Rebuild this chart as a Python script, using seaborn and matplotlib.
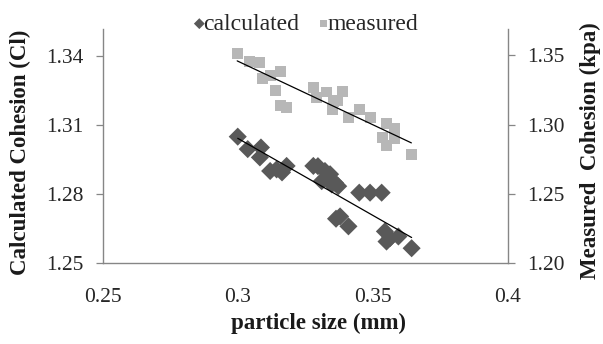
import numpy as np
import seaborn as sns
import matplotlib.pyplot as plt

# =====================================#
# DATA
# =====================================#
calc_size = [0.2999, 0.3036, 0.3085, 0.3081, 0.3119, 0.3143, 0.3180, 0.3163,
             0.3279, 0.3296, 0.3322, 0.3310, 0.3347, 0.3341, 0.3359, 0.3371,
             0.3449, 0.3489, 0.3532, 0.3378, 0.3409, 0.3363, 0.3544, 0.3563,
             0.3594, 0.3550, 0.3643]
calc_cohesion = [1.3048, 1.2994, 1.3001, 1.2958, 1.2899, 1.2906, 1.2921, 1.2893,
                 1.2921, 1.2920, 1.2899, 1.2855, 1.2841, 1.2885, 1.2848, 1.2833,
                 1.2805, 1.2805, 1.2805, 1.2702, 1.2659, 1.2692, 1.2637, 1.2608,
                 1.2615, 1.2593, 1.2564]

meas_size = [0.2997, 0.3042, 0.3079, 0.3091, 0.3119, 0.3158, 0.3138, 0.3158,
             0.3180, 0.3279, 0.3291, 0.3328, 0.3353, 0.3388, 0.3350, 0.3368,
             0.3409, 0.3449, 0.3489, 0.3551, 0.3578, 0.3536, 0.3551, 0.3581,
             0.3642]
meas_cohesion = [1.3510, 1.3454, 1.3449, 1.3332, 1.3352, 1.3381, 1.3247, 1.3138,
                 1.3121, 1.3265, 1.3192, 1.3235, 1.3163, 1.3240, 1.3109, 1.3174,
                 1.3048, 1.3109, 1.3048, 1.3005, 1.2968, 1.2908, 1.2847, 1.2901,
                 1.2786]

x_ticks = [0.25, 0.3, 0.35, 0.4]
x_tick_labels = ["0.25", "0.3", "0.35", "0.4"]
left_ticks = [1.25, 1.28, 1.31, 1.34]
right_ticks = [1.20, 1.25, 1.30, 1.35]

# =====================================#
# STYLE
# =====================================#
sns.set_theme(style="white")
plt.rcParams["font.family"] = ["Liberation Serif", "DejaVu Serif"]

axis_grey = "#868686"
calc_color = "#595959"
meas_color = "#b7b7b7"
text_color = "#262626"

fig = plt.figure(figsize=(6.03, 3.44), dpi=100)
ax = fig.add_axes([0.1708, 0.2355, 0.8425 - 0.1708, 0.9157 - 0.2355])
ax2 = ax.twinx()

# calculated (left axis)
sns.scatterplot(x=calc_size, y=calc_cohesion, ax=ax, marker="D", s=85,
                color=calc_color, edgecolor="none", label="calculated", zorder=3)
sns.regplot(x=np.array(calc_size), y=np.array(calc_cohesion), ax=ax, scatter=False,
            ci=None, truncate=True, line_kws={"color": "black", "lw": 0.9, "zorder": 4})

# measured (right axis)
sns.scatterplot(x=meas_size, y=meas_cohesion, ax=ax2, marker="s", s=62,
                color=meas_color, edgecolor="none", label="measured", zorder=3)
sns.regplot(x=np.array(meas_size), y=np.array(meas_cohesion), ax=ax2, scatter=False,
            ci=None, truncate=True, line_kws={"color": "black", "lw": 0.9, "zorder": 4})

ax.set_xlim(0.25, 0.4)
ax.set_ylim(1.25, 1.3515)
ax2.set_ylim(1.20, 1.369)

ax.set_xticks(x_ticks)
ax.set_xticklabels(x_tick_labels)
ax.set_yticks(left_ticks)
ax.set_yticklabels([f"{v:.2f}" for v in left_ticks])
ax2.set_yticks(right_ticks)
ax2.set_yticklabels([f"{v:.2f}" for v in right_ticks])

for a in (ax, ax2):
    a.spines["top"].set_visible(False)
    for side in ("left", "right", "bottom"):
        a.spines[side].set_color(axis_grey)
        a.spines[side].set_linewidth(1.0)
    a.tick_params(axis="both", which="major", direction="out", length=5,
                  width=0.9, color=axis_grey, labelsize=15.5,
                  labelcolor=text_color)
ax.spines["right"].set_visible(False)
ax2.spines["left"].set_visible(False)
ax2.spines["bottom"].set_visible(False)
ax.tick_params(axis="x", pad=13)
ax.tick_params(axis="y", pad=9)
ax2.tick_params(axis="y", pad=9)

label_kw = dict(fontsize=16.5, fontweight="bold", color="#1a1a1a")
ax.set_xlabel("particle size (mm)", **label_kw)
ax.xaxis.set_label_coords(0.531, -0.215)
ax.set_ylabel("Calculated Cohesion (Cl)", **label_kw)
ax.yaxis.set_label_coords(-0.178, 0.474)
ax2.set_ylabel("Measured  Cohesion (kpa)", rotation=90, **label_kw)
ax2.yaxis.set_label_coords(1.178, 0.48)

# legend above the plot
h1, l1 = ax.get_legend_handles_labels()
h2, l2 = ax2.get_legend_handles_labels()
ax.get_legend().remove()
ax2.get_legend().remove()
leg = fig.legend(h1 + h2, l1 + l2, loc="center", bbox_to_anchor=(0.503, 0.93),
                 ncol=2, frameon=False, fontsize=17, markerscale=0.6,
                 handletextpad=-0.3, columnspacing=0.6, handlelength=0.9)
for t in leg.get_texts():
    t.set_color(text_color)

plt.savefig("out.png", dpi=100)
